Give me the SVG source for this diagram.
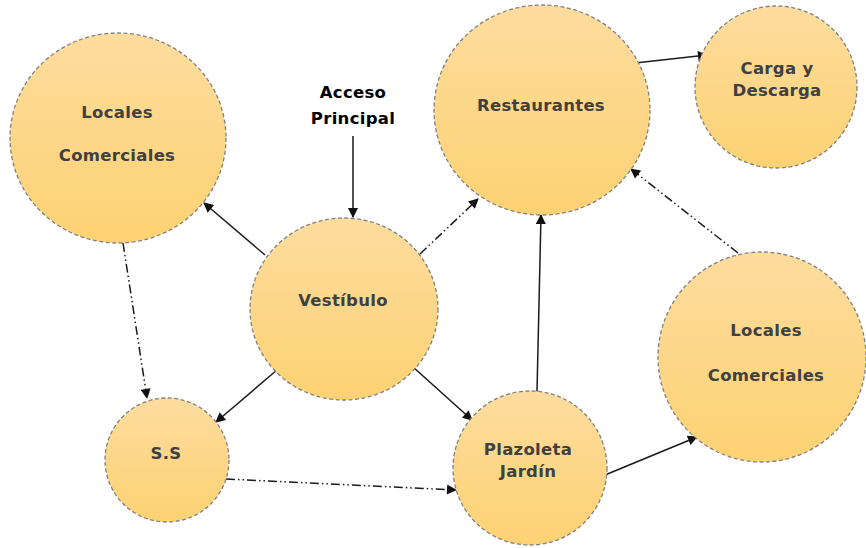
<svg xmlns="http://www.w3.org/2000/svg" width="866" height="548" viewBox="0 0 866 548">
<defs>
<linearGradient id="g" x1="0" y1="0" x2="0" y2="1">
<stop offset="0" stop-color="#FDDC9E"/>
<stop offset="1" stop-color="#FDD273"/>
</linearGradient>
<marker id="ah2" viewBox="0 0 10 10" refX="9" refY="5" markerWidth="12" markerHeight="10" markerUnits="userSpaceOnUse" orient="auto">
<path d="M0,0 L10,5 L0,10 Z" fill="#111"/>
</marker>
</defs>
<style>
.n{fill:url(#g);stroke:#808080;stroke-width:1.3;stroke-dasharray:4 2.5}
.t{font-family:"DejaVu Sans",sans-serif;font-weight:bold;font-size:16.5px;letter-spacing:0.3px;fill:#404040;text-anchor:middle}
.k{fill:#000}
.c{stroke:#1a1a1a;stroke-width:1.5;fill:none;marker-end:url(#ah2)}
.d{stroke-dasharray:9 3 1.5 3 1.5 3}
</style>
<rect width="866" height="548" fill="#fff"/>
<g id="connectors">
<line class="c" x1="353" y1="136" x2="353" y2="217"/>
<line class="c" x1="265" y1="255" x2="204" y2="203"/>
<line class="c d" x1="420" y1="254" x2="478" y2="199"/>
<line class="c" x1="277" y1="370" x2="216" y2="422"/>
<line class="c" x1="413" y1="367" x2="472" y2="420"/>
<line class="c d" x1="123" y1="243" x2="147" y2="398"/>
<line class="c d" x1="226" y1="479" x2="456" y2="490"/>
<line class="c" x1="537" y1="392" x2="541" y2="215"/>
<line class="c" x1="605" y1="475" x2="697" y2="437"/>
<line class="c d" x1="738" y1="253" x2="631" y2="169"/>
<line class="c" x1="635" y1="63" x2="707" y2="55"/>
</g>
<g id="locales-izq">
<ellipse class="n" cx="118" cy="138" rx="108" ry="105"/>
<text class="t" x="117" y="118">Locales</text>
<text class="t" x="117" y="161">Comerciales</text>
</g>
<g id="acceso">
<text class="t k" x="353" y="98">Acceso</text>
<text class="t k" x="353" y="124">Principal</text>
</g>
<g id="vestibulo">
<ellipse class="n" cx="344" cy="309" rx="94" ry="91"/>
<text class="t" x="343" y="306">Vestíbulo</text>
</g>
<g id="restaurantes">
<ellipse class="n" cx="542" cy="110" rx="108" ry="105"/>
<text class="t" x="541" y="111">Restaurantes</text>
</g>
<g id="carga">
<ellipse class="n" cx="776" cy="87" rx="81" ry="81"/>
<text class="t" x="777" y="74">Carga y</text>
<text class="t" x="777" y="96">Descarga</text>
</g>
<g id="ss">
<ellipse class="n" cx="167" cy="460" rx="62" ry="62"/>
<text class="t" x="166" y="459">S.S</text>
</g>
<g id="plazoleta">
<ellipse class="n" cx="530" cy="468" rx="77" ry="77"/>
<text class="t" x="528" y="455">Plazoleta</text>
<text class="t" x="528" y="477">Jardín</text>
</g>
<g id="locales-der">
<ellipse class="n" cx="762" cy="357" rx="104" ry="105"/>
<text class="t" x="766" y="336">Locales</text>
<text class="t" x="766" y="381">Comerciales</text>
</g>
</svg>
